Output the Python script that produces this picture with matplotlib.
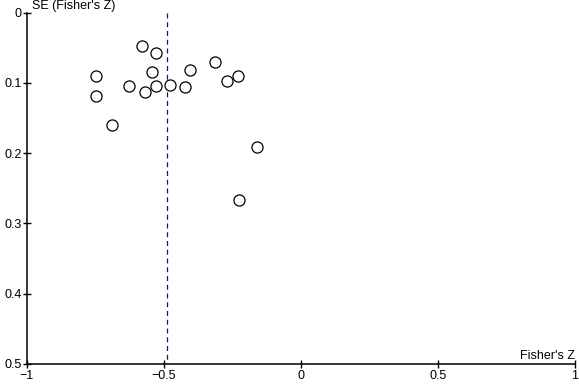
import matplotlib
matplotlib.use("Agg")
import matplotlib.pyplot as plt

# funnel plot data (Fisher's Z vs its standard error)
fisher_z = [-0.748, -0.748, -0.689, -0.628, -0.580, -0.570, -0.545, -0.529, -0.530,
            -0.478, -0.423, -0.405, -0.314, -0.270, -0.231, -0.161, -0.226]
se_z = [0.090, 0.119, 0.160, 0.1045, 0.048, 0.113, 0.084, 0.057, 0.1045,
        0.103, 0.106, 0.082, 0.070, 0.097, 0.090, 0.191, 0.267]
pooled_z = -0.489
x_ticks = [-1, -0.5, 0, 0.5, 1]
y_ticks = [0, 0.1, 0.2, 0.3, 0.4, 0.5]

plt.rcParams['font.family'] = ['Liberation Sans', 'DejaVu Sans']

fig = plt.figure(figsize=(5.79, 3.85), dpi=100)
ax = fig.add_axes([27/579, 1 - 364/385, (575-27)/579, (364-12.5)/385])

ax.plot(fisher_z, se_z, 'o', markersize=8, markerfacecolor='white',
        markeredgecolor='black', markeredgewidth=0.9, clip_on=False, zorder=3)
ax.plot([pooled_z, pooled_z], [0, 0.5], color='#1010b0', linestyle=(0, (4, 3)),
        linewidth=0.9)

ax.set_xlim(-1, 1)
ax.set_ylim(0.5, 0)
ax.set_xticks(x_ticks)
ax.set_xticklabels(['\u22121', '\u22120.5', '0', '0.5', '1'])
ax.set_yticks(y_ticks)
ax.set_yticklabels(['0', '0.1', '0.2', '0.3', '0.4', '0.5'])

for s in ['top', 'right']:
    ax.spines[s].set_visible(False)
for s in ['left', 'bottom']:
    ax.spines[s].set_linewidth(1.1)

ax.tick_params(direction='inout', length=6, width=1, labelsize=9, pad=1)

fig.text(32/579, 1 - 0.5/385, "SE (Fisher's Z)", fontsize=9, ha='left', va='top')
ax.text(1.0, 0.005, "Fisher's Z", transform=ax.transAxes, fontsize=9,
        ha='right', va='bottom')

fig.savefig('out.png', dpi=100)
